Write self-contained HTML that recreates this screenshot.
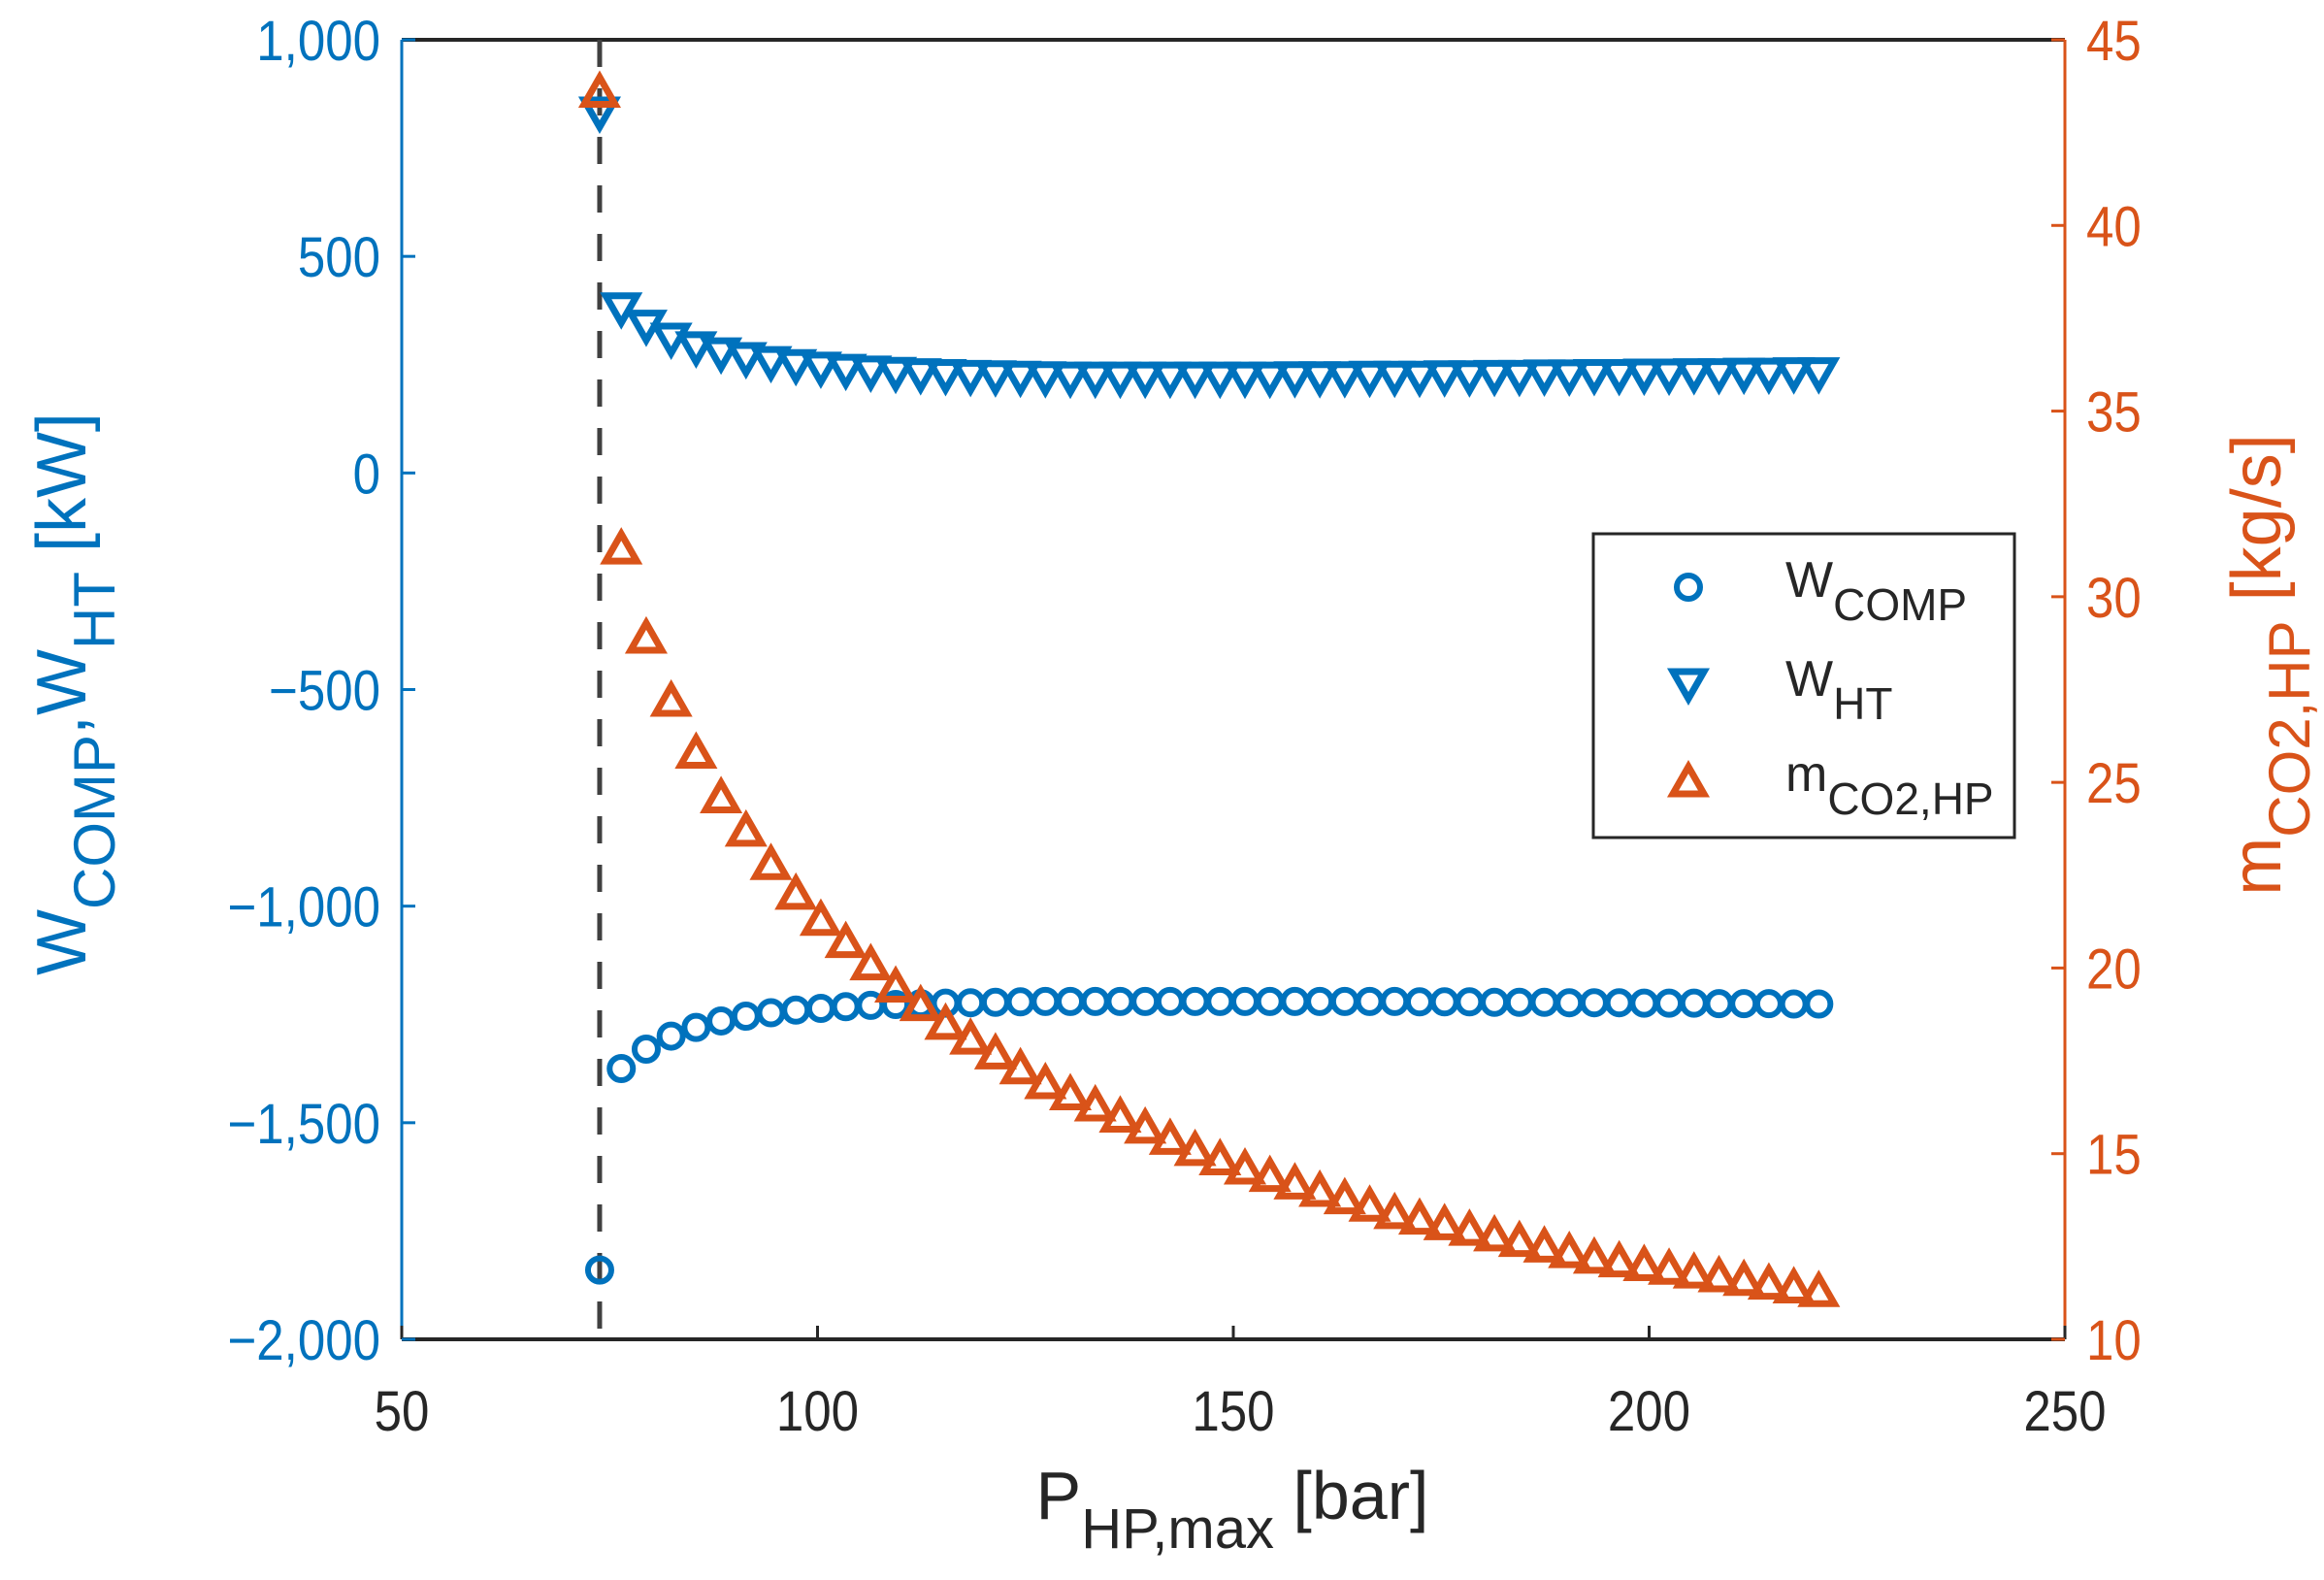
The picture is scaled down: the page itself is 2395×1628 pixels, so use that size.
<!DOCTYPE html>
<html><head><meta charset="utf-8"><style>
html,body{margin:0;padding:0;background:#fff;}
svg{display:block;font-family:"Liberation Sans",Arial,sans-serif;}
</style></head><body>
<svg id="chart" width="2395" height="1628" viewBox="0 0 2395 1628" xmlns="http://www.w3.org/2000/svg"></svg>
<script>
const pressures=[76.4,79.4,82.4,85.4,88.4,91.4,94.4,97.4,100.4,103.4,106.4,109.4,112.4,115.4,118.4,121.4,124.4,127.4,130.4,133.4,136.4,139.4,142.4,145.4,148.4,151.4,154.4,157.4,160.4,163.4,166.4,169.4,172.4,175.4,178.4,181.4,184.4,187.4,190.4,193.4,196.4,199.4,202.4,205.4,208.4,211.4,214.4,217.4,220.4];
const wComp=[-1375,-1330,-1300,-1280,-1265,-1254,-1246,-1240,-1236,-1232,-1229,-1227,-1225,-1224,-1223,-1222,-1221,-1220,-1220,-1220,-1220,-1220,-1220,-1220,-1220,-1220,-1220,-1220,-1220,-1220,-1220,-1220,-1221,-1221,-1221,-1222,-1222,-1222,-1223,-1223,-1223,-1224,-1224,-1224,-1225,-1225,-1225,-1226,-1226];
const wHT=[380,340,310,290,276,265,256,249,243,238,234,231,228,226,224,223,222,221,220,220,220,220,220,220,220,220,220,221,221,221,222,222,222,223,223,224,224,225,225,226,226,227,227,228,228,229,229,230,230];
const mCO2=[31.3,28.9,27.2,25.8,24.6,23.7,22.8,22.0,21.3,20.7,20.1,19.5,19.0,18.5,18.1,17.7,17.3,16.9,16.6,16.3,16.0,15.7,15.4,15.1,14.85,14.6,14.4,14.2,14.0,13.8,13.6,13.4,13.25,13.1,12.95,12.8,12.65,12.5,12.35,12.2,12.1,12.0,11.9,11.8,11.7,11.6,11.5,11.4,11.3];
const critP=[73.8];
const critWComp=[-1840];
const critWHT=[832];
const critM=[43.6];
const xTicks=[50,100,150,200,250];
const yLeftTicks=[1000,500,0,-500,-1000,-1500,-2000];
const yLeftLabels=["1,000","500","0","\u2212500","\u22121,000","\u22121,500","\u22122,000"];
const yRightTicks=[10,15,20,25,30,35,40,45];

const L=414,R=2128,T=41,B=1380;
const X=v=>L+(v-50)/200*(R-L);
const YL=v=>T+(1000-v)/3000*(B-T);
const YR=v=>B-(v-10)/35*(B-T);
const BLUE="#0072BD",ORANGE="#D95319";
const svg=document.getElementById('chart');
const NS="http://www.w3.org/2000/svg";
function mk(tag,attrs,parent){const e=document.createElementNS(NS,tag);for(const k in attrs)e.setAttribute(k,attrs[k]);(parent||svg).appendChild(e);return e;}
function squeeze(t,f){try{const w=t.getComputedTextLength();t.setAttribute('textLength',w*f);t.setAttribute('lengthAdjust','spacingAndGlyphs');}catch(e){}}

let a=mk('line',{x1:L,y1:T,x2:R,y2:T,stroke:'#262626','stroke-width':4});


a=mk('line',{x1:L,y1:B,x2:R,y2:B,stroke:'#262626','stroke-width':4});


a=mk('line',{x1:L,y1:T,x2:L,y2:B,stroke:BLUE,'stroke-width':3});


a=mk('line',{x1:R,y1:T,x2:R,y2:B,stroke:ORANGE,'stroke-width':3});



xTicks.forEach(v=>{
  const t=mk('line',{x1:X(v),y1:B,x2:X(v),y2:B-14,stroke:'#262626','stroke-width':3});
  
  
  const tx=mk('text',{x:X(v),y:B+94,'text-anchor':'middle','font-size':58,fill:'#262626'});
  tx.textContent=v;
  
  
  squeeze(tx,0.88);
});
yLeftTicks.forEach((v,i)=>{
  const t=mk('line',{x1:L,y1:YL(v),x2:L+14,y2:YL(v),stroke:BLUE,'stroke-width':3});
  
  
  const tx=mk('text',{x:L-22,y:YL(v)+21,'text-anchor':'end','font-size':58,fill:BLUE});
  tx.textContent=yLeftLabels[i];
  
  
  squeeze(tx,0.88);
});
yRightTicks.forEach(v=>{
  const t=mk('line',{x1:R,y1:YR(v),x2:R-14,y2:YR(v),stroke:ORANGE,'stroke-width':3});
  
  
  const tx=mk('text',{x:R+22,y:YR(v)+21,'text-anchor':'start','font-size':58,fill:ORANGE});
  tx.textContent=v;
  
  
  squeeze(tx,0.88);
});

const dl=mk('line',{x1:X(critP[0]),y1:T,x2:X(critP[0]),y2:B,stroke:'#404040','stroke-width':5,'stroke-dasharray':'28,22'});



function circle(x,y,g){return mk('circle',{cx:x,cy:y,r:12,fill:'none',stroke:BLUE,'stroke-width':6},g);}
function triDown(x,y,g,c){return mk('path',{d:`M${x-16},${y-13}L${x+16},${y-13}L${x},${y+15}Z`,fill:'none',stroke:c,'stroke-width':7,'stroke-linejoin':'miter'},g);}
function triUp(x,y,g,c){return mk('path',{d:`M${x-16},${y+13}L${x+16},${y+13}L${x},${y-15}Z`,fill:'none',stroke:c,'stroke-width':7,'stroke-linejoin':'miter'},g);}

const gC=mk('g',{});


const gH=mk('g',{});


const gM=mk('g',{});



critP.forEach((p,i)=>{
  let e=circle(X(p),YL(critWComp[i]),gC);
  
  
  e=triDown(X(p),YL(critWHT[i]),gH,BLUE);
  
  
  e=triUp(X(p),YR(critM[i]),gM,ORANGE);
  
  
});
pressures.forEach((p,i)=>{
  let e=circle(X(p),YL(wComp[i]),gC);
  
  
  e=triDown(X(p),YL(wHT[i]),gH,BLUE);
  
  
  e=triUp(X(p),YR(mCO2[i]),gM,ORANGE);
  
  
});

const lg=mk('g',{});


mk('rect',{x:1642,y:550,width:434,height:313,fill:'#fff',stroke:'#262626','stroke-width':3},lg);
circle(1740,605,lg);
triDown(1740,705,lg,BLUE);
triUp(1740,805,lg,ORANGE);
const entries=[["W","COMP",615],["W","HT",717],["m","CO2,HP",815]];
entries.forEach(en=>{
  const t=mk('text',{x:1840,y:en[2],'font-size':52,fill:'#262626'},lg);
  
  
  t.innerHTML=`${en[0]}<tspan dy="24" font-size="46">${en[1]}</tspan>`;
});

const xt=mk('text',{x:1270,y:1565,'text-anchor':'middle','font-size':70,fill:'#262626'});


xt.innerHTML='P<tspan dy="30" font-size="58">HP,max</tspan><tspan dy="-30"> [bar]</tspan>';
const yt=mk('text',{x:0,y:0,'text-anchor':'middle','font-size':72,fill:BLUE,transform:'translate(88,715) rotate(-90)'});


yt.innerHTML='W<tspan dy="30" font-size="60">COMP</tspan><tspan dy="-30">,W</tspan><tspan dy="30" font-size="60">HT</tspan><tspan dy="-30"> [kW]</tspan>';
const yr=mk('text',{x:0,y:0,'text-anchor':'middle','font-size':72,fill:ORANGE,transform:'translate(2350,685) rotate(-90)'});


yr.innerHTML='m<tspan dy="30" font-size="60">CO2,HP</tspan><tspan dy="-30"> [kg/s]</tspan>';
</script>
</body></html>
